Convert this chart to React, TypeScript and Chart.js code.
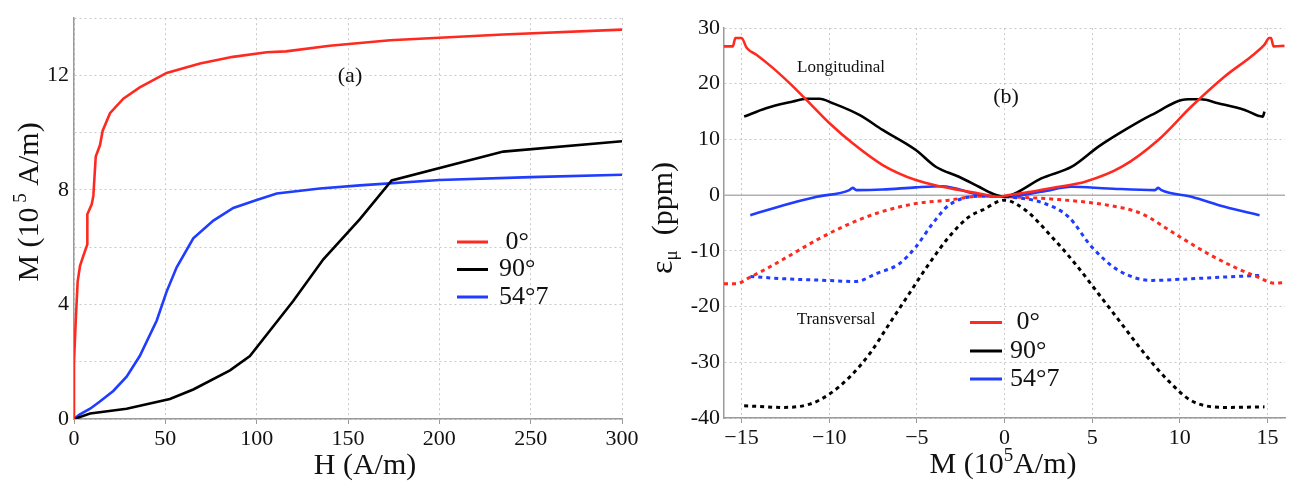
import React, { useEffect, useRef } from "react";
import { Chart, registerables } from "chart.js";

Chart.register(...registerables);

// ---------- Panel (a): M vs H ----------
const H_0 = [0, 0, 1, 2, 3.3, 5.1, 7.3, 7.3, 9.7, 10.6, 11.9, 14.2, 15.7, 19.7, 27, 36, 50.7, 69, 87, 105.5, 116, 140, 173, 235, 300];
const M_0 = [0, 2, 3.5, 4.8, 5.35, 5.7, 6.1, 7.15, 7.5, 7.8, 9.17, 9.56, 10.07, 10.68, 11.19, 11.58, 12.09, 12.42, 12.65, 12.81, 12.84, 13.04, 13.23, 13.43, 13.6];
const H_90 = [0, 8.8, 28.8, 52.5, 65.3, 85.4, 96.3, 120, 136.5, 156.5, 173.9, 235, 300];
const M_90 = [0, 0.19, 0.36, 0.7, 1.03, 1.7, 2.2, 4.12, 5.58, 6.98, 8.33, 9.34, 9.7];
const H_54 = [0, 3, 8.8, 14, 21.5, 28.8, 36, 45.3, 50.7, 56.2, 65.3, 76.3, 87.2, 100, 111, 134.6, 156.5, 200, 250, 300];
const M_54 = [0, 0.15, 0.36, 0.6, 0.98, 1.48, 2.2, 3.44, 4.45, 5.3, 6.31, 6.93, 7.37, 7.65, 7.88, 8.05, 8.16, 8.35, 8.45, 8.53];

// ---------- Panel (b): magnetostriction vs M ----------
const L0_M = [-16, -15.5, -15.35, -15.0, -14.7, -14.15, -13.2, -12.26, -11.3, -9.98, -8.66, -6.95, -5.06, -3.55, -1.46, -0.3, 0.25, 1.5, 3.1, 4.6, 6.7, 8.77, 10.66, 12.56, 14.07, 14.83, 15.1, 15.2, 15.35, 15.97];
const L0_E = [26.7, 26.7, 28.2, 28.2, 26.4, 25.2, 22.8, 20.1, 17.1, 12.9, 9.3, 5.4, 2.7, 1.5, 0.3, -0.3, 0, 0.6, 1.5, 2.4, 5.1, 9.9, 15.9, 21.3, 24.9, 27, 28.2, 28.2, 26.7, 26.8];
const L90_M = [-14.85, -13.6, -12.07, -11.3, -10.55, -9.8, -8.28, -6.95, -5.06, -3.92, -2.6, -1.46, -0.7, 0, 0.6, 2.1, 3.84, 5.36, 6.87, 8.39, 10.47, 11.2, 12.18, 13.7, 14.73, 14.83];
const L90_E = [14.1, 15.6, 16.8, 17.3, 17.3, 16.5, 14.4, 11.7, 8.1, 5.1, 3.3, 1.5, 0.3, -0.3, 0.3, 3.0, 5.1, 8.7, 11.7, 14.4, 17.2, 17.2, 16.5, 15.3, 14.1, 15.0];
const L54_M = [-14.5, -12.6, -10.7, -8.85, -8.66, -8.45, -6.95, -5.06, -3.55, -1.46, 0, 2.1, 3.84, 5.9, 8.58, 8.77, 8.95, 10.66, 12.56, 14.55];
const L54_E = [-3.6, -1.8, -0.3, 0.9, 1.3, 0.9, 1.0, 1.4, 1.6, 0.1, -0.3, 0.6, 1.5, 1.2, 0.9, 1.3, 0.9, -0.3, -2.1, -3.6];
const T0_M = [-16, -15.3, -14.5, -13.4, -12.07, -10.74, -9.23, -7.33, -5.06, -3.17, -1.46, 0.25, 3.1, 5.9, 7.8, 9.7, 11.6, 13.1, 14.45, 15.4, 15.97];
const T0_E = [-15.9, -15.9, -14.7, -12.9, -10.5, -8.1, -5.7, -3.3, -1.5, -0.9, -0.2, -0.3, -0.8, -1.8, -3.3, -6.9, -10.5, -12.9, -14.7, -15.8, -15.7];
const T54_M = [-14.5, -12.6, -10.2, -8.47, -7.33, -6.0, -5.06, -4.1, -3.17, -1.46, 0, 2.3, 3.65, 4.98, 6.5, 8.39, 10.66, 12.56, 14.55];
const T54_E = [-14.6, -15.0, -15.3, -15.5, -14.1, -12.3, -9.3, -5.1, -1.8, -0.2, -0.3, -1.5, -3.9, -9.3, -13.5, -15.3, -15.0, -14.7, -14.4];
const T90_M = [-14.85, -12.6, -11.1, -9.98, -8.85, -7.7, -6.57, -5.44, -4.3, -3.17, -2.03, -1.27, 0, 1.2, 2.7, 4.03, 5.36, 6.68, 8.0, 9.34, 10.66, 12.56, 14.83];
const T90_E = [-37.8, -38.1, -37.5, -35.7, -32.7, -28.5, -23.1, -17.7, -12.3, -7.5, -3.9, -2.7, -0.9, -2.7, -7.5, -12.3, -17.7, -23.1, -28.5, -33.3, -36.9, -38.1, -38.0];
const ZERO_M = [-16, 16];
const ZERO_E = [0, 0];

const B_X_TICKS = [-15, -10, -5, 0, 5, 10, 15];
const LEGEND_LABELS = [" 0°", "90°", "54°7"];

const RED = "#ff2a1f";
const BLACK = "#000000";
const BLUE = "#1f3cff";
const SERIF = "'Liberation Serif', 'DejaVu Serif', serif";

const pts = (xs: number[], ys: number[]) => xs.map((x, i) => ({ x, y: ys[i] }));

type Seg = { t: string; size: number; dy?: number };
function drawRich(ctx: CanvasRenderingContext2D, segs: Seg[], cx: number, cy: number, rot = 0) {
  ctx.save();
  ctx.translate(cx, cy);
  ctx.rotate(rot);
  ctx.textBaseline = "middle";
  ctx.textAlign = "left";
  let total = 0;
  for (const s of segs) {
    ctx.font = `${s.size}px ${SERIF}`;
    total += ctx.measureText(s.t).width;
  }
  let x = -total / 2;
  ctx.fillStyle = "#111";
  for (const s of segs) {
    ctx.font = `${s.size}px ${SERIF}`;
    ctx.fillText(s.t, x, s.dy || 0);
    x += ctx.measureText(s.t).width;
  }
  ctx.restore();
}

function drawLegend(ctx: CanvasRenderingContext2D, x0: number, x1: number, tx: number, ys: number[], size: number) {
  const cols = [RED, BLACK, BLUE];
  ctx.save();
  ys.forEach((y, i) => {
    ctx.strokeStyle = cols[i];
    ctx.lineWidth = 3;
    ctx.beginPath();
    ctx.moveTo(x0, y);
    ctx.lineTo(x1, y);
    ctx.stroke();
    ctx.fillStyle = "#111";
    ctx.font = `${size}px ${SERIF}`;
    ctx.textBaseline = "middle";
    ctx.textAlign = "left";
    ctx.fillText(LEGEND_LABELS[i], tx, y);
  });
  ctx.restore();
}

const gridCommon = {
  color: "#c8c8c8",
  lineWidth: 1,
  tickColor: "#999",
  tickBorderDash: [],
};
const borderCommon = { display: true, color: "#9a9a9a", width: 1.5, dash: [2, 3] };

export default function App() {
  const refA = useRef<HTMLCanvasElement>(null);
  const refB = useRef<HTMLCanvasElement>(null);

  useEffect(() => {
    document.body.style.margin = "0";
    const line = (data: any, color: string, dashed = false, smooth = false) => ({
      data,
      borderColor: color,
      backgroundColor: color,
      borderWidth: dashed ? 3 : 2.6,
      borderDash: dashed ? [4, 4] : [],
      borderCapStyle: "butt" as const,
      pointRadius: 0,
      tension: smooth ? 0.4 : 0,
      cubicInterpolationMode: smooth ? ("monotone" as const) : ("default" as const),
      fill: false,
    });

    const plugA = {
      id: "annA",
      afterDraw(chart: any) {
        const ctx = chart.ctx;
        drawRich(ctx, [{ t: "H (A/m)", size: 30 }], 365, 466);
        drawRich(ctx, [{ t: "M (10", size: 30 }, { t: " 5", size: 19, dy: -9 }, { t: " A/m)", size: 30 }], 30, 202, -Math.PI / 2);
        drawRich(ctx, [{ t: "(a)", size: 22 }], 350, 76);
        drawLegend(ctx, 457, 488, 499, [242, 269.5, 297], 26);
      },
    };

    const chartA = new Chart(refA.current!, {
      type: "line",
      data: {
        datasets: [
          line(pts(H_0, M_0), RED),
          line(pts(H_90, M_90), BLACK),
          line(pts(H_54, M_54), BLUE),
        ],
      },
      options: {
        animation: false,
        responsive: true,
        maintainAspectRatio: false,
        layout: { padding: { top: 3, right: 28, left: 0, bottom: 0 } },
        plugins: { legend: { display: false }, tooltip: { enabled: false } },
        scales: {
          x: {
            type: "linear",
            min: 0,
            max: 300,
            ticks: { stepSize: 50, color: "#111", font: { family: SERIF, size: 22 }, padding: 2, maxRotation: 0 },
            grid: { ...gridCommon, drawTicks: true, tickLength: 5 },
            border: borderCommon,
            afterFit: (s: any) => { s.height = 65; },
          },
          y: {
            type: "linear",
            min: 0,
            max: 14,
            ticks: {
              stepSize: 2,
              color: "#111",
              font: { family: SERIF, size: 22 },
              padding: 5,
              callback: (v: any) => (Number(v) % 4 === 0 ? String(v) : ""),
            },
            grid: { ...gridCommon, drawTicks: false },
            border: borderCommon,
            afterFit: (s: any) => { s.width = 74; },
          },
        },
      } as any,
      plugins: [plugA],
    });

    const plugB = {
      id: "annB",
      afterDraw(chart: any) {
        const ctx = chart.ctx;
        drawRich(ctx, [{ t: "M (10", size: 30 }, { t: "5", size: 19, dy: -9 }, { t: "A/m)", size: 30 }], 353, 465);
        drawRich(ctx, [{ t: "ε", size: 32 }, { t: "μ", size: 19, dy: 8 }, { t: "  (ppm)", size: 30 }], 14, 218, -Math.PI / 2);
        drawRich(ctx, [{ t: "(b)", size: 22 }], 356, 97);
        drawRich(ctx, [{ t: "Longitudinal", size: 17 }], 191, 68);
        drawRich(ctx, [{ t: "Transversal", size: 17 }], 186, 320);
        drawLegend(ctx, 320, 352, 360, [322.5, 351, 379], 26);
      },
    };

    const chartB = new Chart(refB.current!, {
      type: "line",
      data: {
        datasets: [
          line(pts(L0_M, L0_E), RED, false, true),
          line(pts(L90_M, L90_E), BLACK, false, true),
          line(pts(L54_M, L54_E), BLUE, false, true),
          line(pts(T0_M, T0_E), RED, true, true),
          line(pts(T90_M, T90_E), BLACK, true, true),
          line(pts(T54_M, T54_E), BLUE, true, true),
          { ...line(pts(ZERO_M, ZERO_E), "#b0b0b0"), borderWidth: 1.5 },
        ],
      },
      options: {
        animation: false,
        responsive: true,
        maintainAspectRatio: false,
        layout: { padding: { top: 28, right: 10, left: 0, bottom: 0 } },
        plugins: { legend: { display: false }, tooltip: { enabled: false } },
        scales: {
          x: {
            type: "linear",
            min: -16,
            max: 16,
            afterBuildTicks: (s: any) => { s.ticks = B_X_TICKS.map((v) => ({ value: v })); },
            ticks: {
              color: "#111",
              font: { family: SERIF, size: 22 },
              padding: 2,
              maxRotation: 0,
              callback: (v: any) => (Number(v) < 0 ? "\u2212" + Math.abs(Number(v)) : String(v)),
            },
            grid: { ...gridCommon, drawTicks: true, tickLength: 5 },
            border: borderCommon,
            afterFit: (s: any) => { s.height = 66; },
          },
          y: {
            type: "linear",
            min: -40,
            max: 30,
            ticks: { stepSize: 10, color: "#111", font: { family: SERIF, size: 22 }, padding: 4 },
            grid: { ...gridCommon, drawTicks: false },
            border: borderCommon,
            afterFit: (s: any) => { s.width = 74; },
          },
        },
      } as any,
      plugins: [plugB],
    });

    return () => {
      chartA.destroy();
      chartB.destroy();
    };
  }, []);

  return (
    <div style={{ position: "fixed", left: 0, top: 0, width: 1295, height: 484, background: "#fff" }}>
      <div style={{ position: "absolute", left: 0, top: 0, width: 650, height: 484 }}>
        <canvas ref={refA} />
      </div>
      <div style={{ position: "absolute", left: 650, top: 0, width: 645, height: 484 }}>
        <canvas ref={refB} />
      </div>
    </div>
  );
}
